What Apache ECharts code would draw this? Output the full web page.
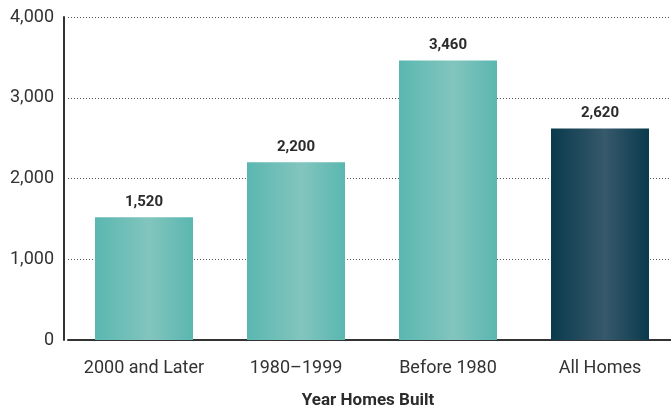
<!DOCTYPE html>
<html>
<head>
<meta charset="utf-8">
<script src="https://cdn.jsdelivr.net/npm/echarts@6/dist/echarts.min.js"></script>
<style>
  html, body { margin: 0; padding: 0; background: #fff; }
  #chart { width: 671px; height: 408px; }
</style>
</head>
<body>
<div id="chart"></div>
<script>
// data
const categories = ['2000 and Later', '1980\u20131999', 'Before 1980', 'All Homes']
const values = [1520, 2200, 3460, 2620]
const yTicks = [0, 1000, 2000, 3000, 4000]

// bar fills: horizontal gradient, lighter stripe in the middle
function stripe(edge, mid) {
  return new echarts.graphic.LinearGradient(0, 0, 1, 0, [
    { offset: 0, color: edge },
    { offset: 0.55, color: mid },
    { offset: 1, color: edge }
  ])
}
const teal = stripe('#5ab7b0', '#82c5be')
const navy = stripe('#0a3a4d', '#36596b')

const chart = echarts.init(document.getElementById('chart'))
const font = 'Roboto, "DejaVu Sans", sans-serif'

const option = {
  animation: false,
  grid: { left: 68, right: -5, top: 17, bottom: 68, outerBoundsMode: 'none', containLabel: false },
  xAxis: {
    type: 'category',
    data: categories,
    name: 'Year Homes Built',
    nameLocation: 'middle',
    nameGap: 52,
    nameTextStyle: { fontFamily: font, fontSize: 17, fontWeight: 'bold', color: '#2b2b2b', padding: [0, 0, 0, -8] },
    axisLine: { lineStyle: { color: '#333', width: 2 } },
    axisTick: { show: false },
    axisLabel: { interval: 0, hideOverlap: false, fontFamily: font, fontSize: 18, color: '#333', margin: 19 }
  },
  yAxis: {
    type: 'value',
    min: yTicks[0],
    max: yTicks[yTicks.length - 1],
    interval: 1000,
    offset: 4,
    axisLine: { show: true, lineStyle: { color: '#333', width: 2 } },
    axisTick: { show: false },
    axisLabel: {
      fontFamily: font, fontSize: 18, color: '#333', margin: 10,
      formatter: v => v.toLocaleString('en-US')
    },
    splitLine: { lineStyle: { color: '#555', type: [1, 2], width: 1 } }
  },
  series: [{
    type: 'bar',
    barWidth: 98,
    data: values.map((v, i) => ({
      value: v,
      itemStyle: { color: i === values.length - 1 ? navy : teal }
    })),
    label: {
      show: true,
      position: 'top',
      distance: 8,
      fontFamily: font,
      fontSize: 15,
      fontWeight: 'bold',
      color: '#2b2b2b',
      formatter: p => p.value.toLocaleString('en-US')
    }
  }]
}

chart.setOption(option)
</script>
</body>
</html>
